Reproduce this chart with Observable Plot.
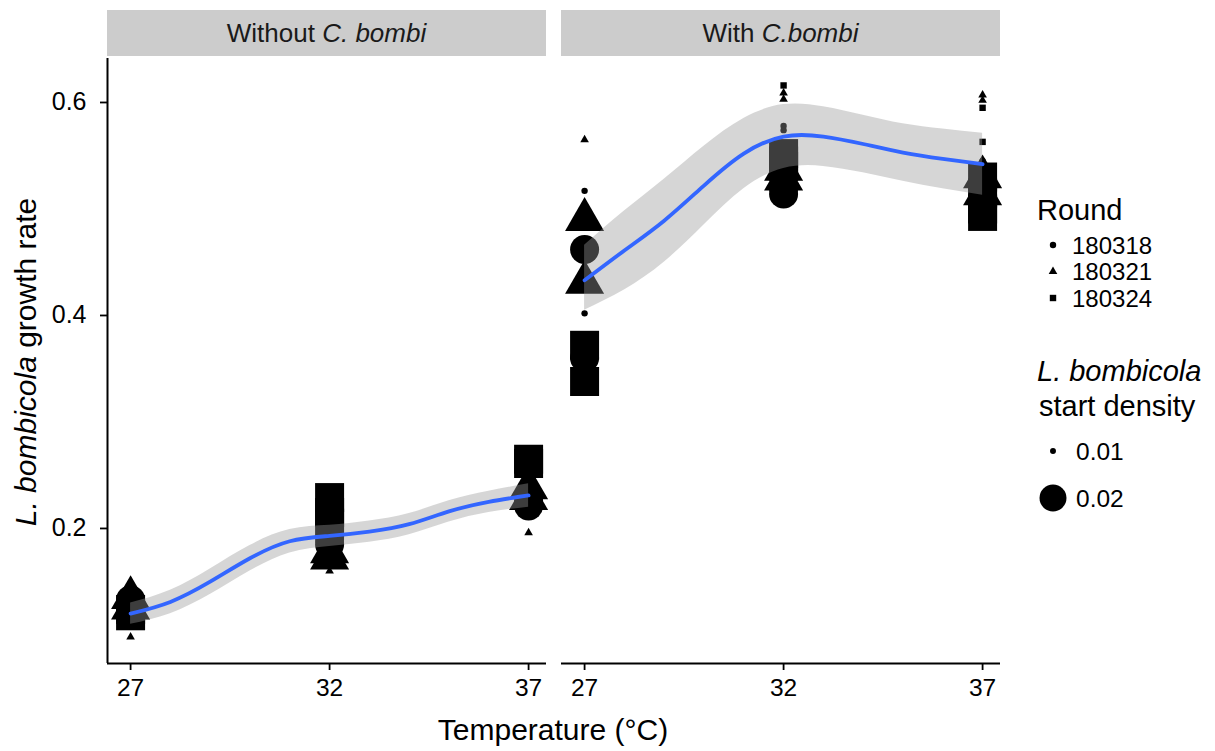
<!DOCTYPE html>
<html>
<head>
<meta charset="utf-8">
<script src="https://cdn.jsdelivr.net/npm/d3@7"></script>
<script src="https://cdn.jsdelivr.net/npm/@observablehq/plot@0.6"></script>
<style>
  html, body { margin: 0; padding: 0; background: #ffffff; }
  #chart { width: 1215px; height: 751px; }
</style>
</head>
<body>
<div id="chart"></div>
<script>
// ---------- data ----------
const conditions = ["Without", "With"];
const temps = [27, 32, 37];
const rounds = ["180318", "180321", "180324"];
const densities = [0.01, 0.02];
const yTicks = [0.2, 0.4, 0.6];

// [condition, temperature, round, start density, growth rate]
const observations = [
  // Without C. bombi, 27
  ["Without", 27, "180318", 0.02, 0.133], ["Without", 27, "180318", 0.02, 0.128], ["Without", 27, "180318", 0.01, 0.125],
  ["Without", 27, "180321", 0.02, 0.135], ["Without", 27, "180321", 0.02, 0.125], ["Without", 27, "180321", 0.01, 0.098], ["Without", 27, "180321", 0.01, 0.150],
  ["Without", 27, "180324", 0.02, 0.118], ["Without", 27, "180324", 0.02, 0.124], ["Without", 27, "180324", 0.01, 0.120],
  // Without C. bombi, 32
  ["Without", 32, "180318", 0.02, 0.190], ["Without", 32, "180318", 0.02, 0.185], ["Without", 32, "180318", 0.01, 0.195],
  ["Without", 32, "180321", 0.02, 0.172], ["Without", 32, "180321", 0.02, 0.178], ["Without", 32, "180321", 0.01, 0.160],
  ["Without", 32, "180324", 0.02, 0.229], ["Without", 32, "180324", 0.02, 0.215], ["Without", 32, "180324", 0.02, 0.205], ["Without", 32, "180324", 0.01, 0.200],
  // Without C. bombi, 37
  ["Without", 37, "180318", 0.02, 0.221], ["Without", 37, "180318", 0.02, 0.226], ["Without", 37, "180318", 0.01, 0.232],
  ["Without", 37, "180321", 0.02, 0.238], ["Without", 37, "180321", 0.02, 0.228], ["Without", 37, "180321", 0.01, 0.196],
  ["Without", 37, "180324", 0.02, 0.265], ["Without", 37, "180324", 0.02, 0.261], ["Without", 37, "180324", 0.01, 0.235],
  // With C. bombi, 27
  ["With", 27, "180318", 0.02, 0.462], ["With", 27, "180318", 0.02, 0.360], ["With", 27, "180318", 0.01, 0.517], ["With", 27, "180318", 0.01, 0.402],
  ["With", 27, "180321", 0.02, 0.490], ["With", 27, "180321", 0.02, 0.431], ["With", 27, "180321", 0.01, 0.565],
  ["With", 27, "180324", 0.02, 0.372], ["With", 27, "180324", 0.02, 0.338], ["With", 27, "180324", 0.01, 0.370],
  // With C. bombi, 32
  ["With", 32, "180318", 0.02, 0.514], ["With", 32, "180318", 0.02, 0.520], ["With", 32, "180318", 0.01, 0.578], ["With", 32, "180318", 0.01, 0.574],
  ["With", 32, "180321", 0.02, 0.537], ["With", 32, "180321", 0.02, 0.528], ["With", 32, "180321", 0.01, 0.609], ["With", 32, "180321", 0.01, 0.603],
  ["With", 32, "180324", 0.02, 0.552], ["With", 32, "180324", 0.02, 0.545], ["With", 32, "180324", 0.02, 0.540], ["With", 32, "180324", 0.01, 0.616],
  // With C. bombi, 37
  ["With", 37, "180318", 0.02, 0.520], ["With", 37, "180318", 0.02, 0.510], ["With", 37, "180318", 0.01, 0.545],
  ["With", 37, "180321", 0.02, 0.530], ["With", 37, "180321", 0.02, 0.514], ["With", 37, "180321", 0.01, 0.607], ["With", 37, "180321", 0.01, 0.602],
  ["With", 37, "180324", 0.02, 0.530], ["With", 37, "180324", 0.02, 0.515], ["With", 37, "180324", 0.02, 0.500], ["With", 37, "180324", 0.02, 0.493],
  ["With", 37, "180324", 0.01, 0.595], ["With", 37, "180324", 0.01, 0.563]
];

// smoother
const fitTemp    = [27, 28, 29, 30, 31, 32, 33, 34, 35, 36, 37];
const fitWithout = [0.120, 0.131, 0.150, 0.172, 0.188, 0.193, 0.197, 0.204, 0.216, 0.225, 0.231];
const loWithout  = [0.110, 0.120, 0.138, 0.160, 0.177, 0.183, 0.187, 0.194, 0.206, 0.215, 0.220];
const hiWithout  = [0.130, 0.142, 0.162, 0.184, 0.199, 0.203, 0.207, 0.214, 0.226, 0.235, 0.242];
const fitWith    = [0.433, 0.461, 0.489, 0.522, 0.552, 0.568, 0.568, 0.561, 0.553, 0.547, 0.542];
const loWith     = [0.405, 0.424, 0.450, 0.485, 0.519, 0.538, 0.540, 0.534, 0.526, 0.519, 0.513];
const hiWith     = [0.466, 0.498, 0.528, 0.559, 0.585, 0.598, 0.596, 0.588, 0.580, 0.575, 0.571];

// ---------- tables ----------
const points = observations.map(([cond, temp, round, density, rate]) => ({cond, temp, round, density, rate}));
const fits = [
  ...fitTemp.map((t, i) => ({cond: "Without", temp: t, fit: fitWithout[i], lo: loWithout[i], hi: hiWithout[i]})),
  ...fitTemp.map((t, i) => ({cond: "With", temp: t, fit: fitWith[i], lo: loWith[i], hi: hiWith[i]}))
];

// ---------- symbols ----------
const squareSym = {draw(ctx, size) { const r = Math.sqrt(size / Math.PI); ctx.rect(-r, -r, 2 * r, 2 * r); ctx.closePath(); }};
const shapes = [d3.symbolCircle, d3.symbolTriangle, squareSym];

const xDomain = [26.42, 37.45];
const yDomain = [0.0732, 0.6413];
const FONT = "'Liberation Sans', Arial, Helvetica, sans-serif";

const plot = Plot.plot({
  width: 1215,
  height: 751,
  marginLeft: 107,
  marginRight: 215,
  marginTop: 58,
  marginBottom: 88,
  style: {fontFamily: FONT, fontSize: "24px", color: "black", background: "white", overflow: "visible"},
  fx: {domain: conditions, paddingInner: 0.0331, paddingOuter: 0, axis: null, label: null},
  x: {domain: xDomain, label: null},
  y: {domain: yDomain, label: null},
  r: {type: "linear", domain: [0.01, 0.02], range: [3.2, 14.5]},
  marks: [
    ...rounds.map((rd, i) => Plot.dot(points.filter(d => d.round === rd), {
      x: "temp", y: "rate", fx: "cond", r: "density", symbol: shapes[i], fill: "black", stroke: "none"
    })),
    Plot.areaY(fits, {x: "temp", y1: "lo", y2: "hi", fx: "cond", fill: "#999999", fillOpacity: 0.4, curve: "natural"}),
    Plot.line(fits, {x: "temp", y: "fit", fx: "cond", stroke: "#3366FF", strokeWidth: 3.8, curve: "natural"}),
    Plot.ruleY([yDomain[0]], {stroke: "black", strokeWidth: 2}),
    Plot.ruleX([xDomain[0]], {fx: ["Without"], stroke: "black", strokeWidth: 2}),
    Plot.axisX({ticks: temps, tickSize: 7, tickPadding: 8, tickFormat: d => String(d), fontSize: 24.5, strokeWidth: 1.8, label: null}),
    Plot.axisY({ticks: yTicks, tickSize: 7, tickPadding: 14, tickFormat: d3.format(".1f"), fontSize: 25, strokeWidth: 1.8, label: null})
  ]
});

document.getElementById("chart").appendChild(plot);

// ---------- strips, titles, legend ----------
const svg = d3.select(plot);
const fx = plot.scale("fx");
const stripLabels = {Without: ["Without ", "C. bombi"], With: ["With ", "C.bombi"]};
const strips = svg.append("g");
conditions.forEach(c => {
  const x0 = fx.apply(c), w = fx.bandwidth;
  strips.append("rect").attr("x", x0).attr("y", 10).attr("width", w).attr("height", 46).attr("fill", "#cccccc");
  const t = strips.append("text").attr("x", x0 + w / 2).attr("y", 42).attr("text-anchor", "middle")
    .attr("font-family", FONT).attr("font-size", 26).attr("fill", "#1a1a1a");
  t.append("tspan").text(stripLabels[c][0]);
  t.append("tspan").attr("font-style", "italic").text(stripLabels[c][1]);
});

svg.append("text").attr("x", 553).attr("y", 740).attr("text-anchor", "middle")
  .attr("font-family", FONT).attr("font-size", 30).attr("fill", "black").text("Temperature (\u00B0C)");

const yt = svg.append("text").attr("transform", "translate(36,362) rotate(-90)").attr("text-anchor", "middle")
  .attr("font-family", FONT).attr("font-size", 30).attr("fill", "black");
yt.append("tspan").attr("font-style", "italic").text("L. bombicola");
yt.append("tspan").text(" growth rate");

const rScale = plot.scale("r");
const lg = svg.append("g").attr("font-family", FONT).attr("fill", "black").attr("text-anchor", "start");
lg.append("text").attr("x", 1037).attr("y", 220).attr("font-size", 29).attr("text-anchor", "start").text("Round");
const roundY = [245, 271.5, 298];
rounds.forEach((rd, i) => {
  lg.append("path").attr("transform", `translate(1053,${roundY[i]})`)
    .attr("d", d3.symbol(shapes[i], Math.PI * 3.2 * 3.2)()).attr("fill", "black");
  lg.append("text").attr("x", 1072).attr("y", roundY[i] + 8.5).attr("font-size", 24).attr("text-anchor", "start").text(rd);
});
lg.append("text").attr("x", 1037).attr("y", 381).attr("font-size", 29).attr("font-style", "italic").attr("text-anchor", "start").text("L. bombicola");
lg.append("text").attr("x", 1039).attr("y", 416).attr("font-size", 29).attr("text-anchor", "start").text("start density");
const densY = [451, 498];
densities.forEach((d, i) => {
  const r = rScale.apply(d) * 0.93;
  lg.append("path").attr("transform", `translate(1053,${densY[i]})`)
    .attr("d", d3.symbol(d3.symbolCircle, Math.PI * r * r)()).attr("fill", "black");
  lg.append("text").attr("x", 1076).attr("y", densY[i] + 9).attr("font-size", 24.5).attr("text-anchor", "start").text(d3.format(".2f")(d));
});
</script>
</body>
</html>
